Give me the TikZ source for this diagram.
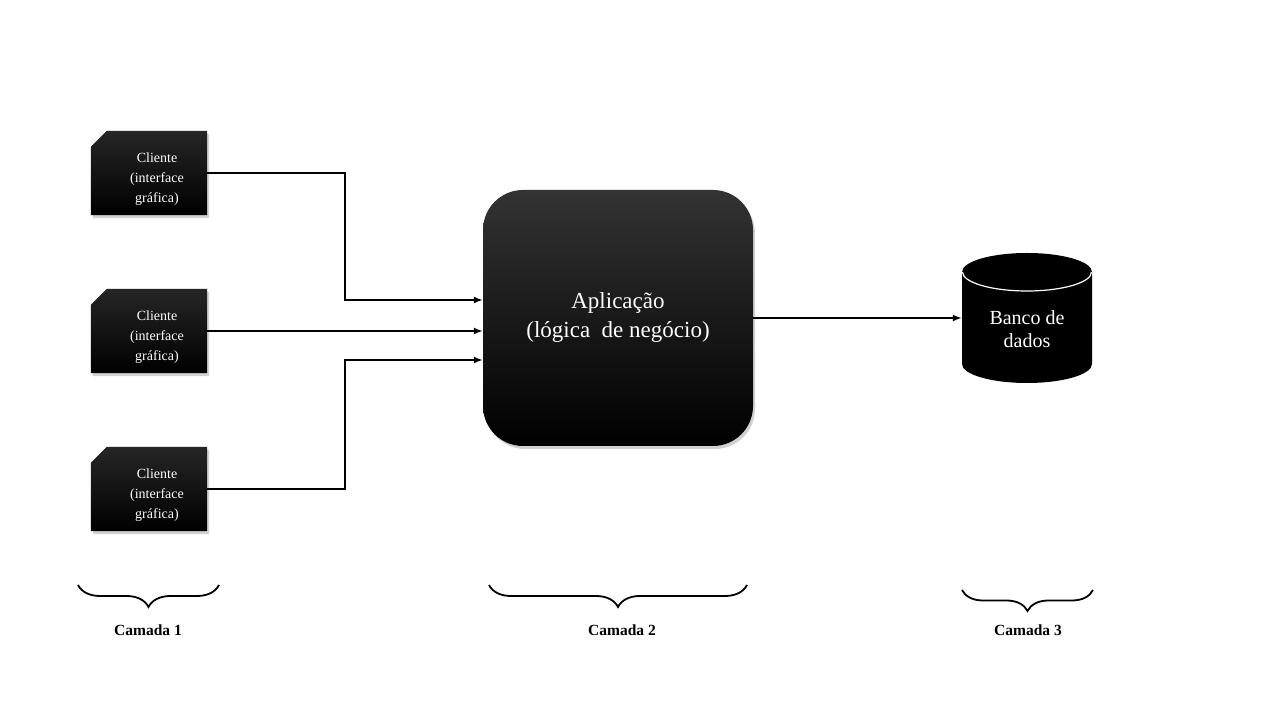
\documentclass[tikz,border=0pt]{standalone}
\usepackage{fontspec}
\setmainfont{Liberation Serif}
\usetikzlibrary{arrows.meta,shadows,backgrounds,decorations.pathreplacing}
\begin{document}
\begin{tikzpicture}[x=1pt,y=1pt,
  clientbox/.style={minimum width=116, minimum height=84, inner sep=0, draw=none},
  cltext/.style={text=white, align=center, inner sep=0, font=\fontsize{14}{20}\selectfont},
  clientfill/.style={top color=black!85, middle color=black, bottom color=black,
     drop shadow={shadow xshift=2pt, shadow yshift=-3pt, opacity=0.18, fill=black}},
  appbox/.style={minimum width=270, minimum height=256, rounded corners=40, inner sep=0,
     top color=black!80, middle color=black, bottom color=black,
     drop shadow={shadow xshift=2pt, shadow yshift=-3pt, opacity=0.18, fill=black},
     text=white, align=center, font=\fontsize{23}{29}\selectfont},
  dbbox/.style={minimum width=130, minimum height=130, inner sep=0, text=white, align=center,
     font=\fontsize{20}{23}\selectfont},
  conn/.style={line width=1.6pt, -{Latex[length=9pt,width=7pt]}},
  bracestyle/.style={line width=1.8pt, decorate, decoration={brace, mirror, amplitude=22pt}},
  camada/.style={font=\fontsize{15.5}{18}\selectfont\bfseries, inner sep=0}]
\useasboundingbox (0,0) rectangle (1280,720);
\fill[white] (0,0) rectangle (1280,720);

% clients
\foreach \n/\y in {c1/547, c2/389, c3/231} {
  \node[clientbox] (\n) at (149,\y) {};
  \path[clientfill] ([yshift=-16]\n.north west) -- ([xshift=16]\n.north west) -- (\n.north east)
     -- (\n.south east) -- (\n.south west) -- cycle;
  \node[cltext] (\n t) at ([xshift=8,yshift=-6]\n.center) {Cliente\\(interface\\gráfica)};
}

% application
\node[appbox] (app) at (618,402) {Aplicação\\(lógica\ \ de negócio)};

% database cylinder
\fill[black] (962,448) -- (962,356) arc[start angle=180, end angle=360, x radius=65pt, y radius=19pt]
   -- (1092,448) arc[start angle=0, end angle=180, x radius=65pt, y radius=19pt] -- cycle;
\draw[white, line width=1.2pt] (962.5,448) arc[start angle=180, end angle=360, x radius=64.5pt, y radius=19pt];
\node[dbbox] (db) at (1027,402) {};
\node[dbbox, minimum width=0, minimum height=0] (dbt) at (1027,391) {Banco de\\dados};

% connectors
\draw[conn] (c1.east) -- ++(138,0) |- ([yshift=18]app.west);
\draw[conn] (c2.east) -- (app.west |- c2.east);
\draw[conn] (c3.east) -- ++(138,0) |- ([yshift=-42]app.west);
\draw[conn] (app.east) -- (db.west);

% braces
\coordinate (b1a) at (78,135);  \coordinate (b1b) at (219,135);
\coordinate (b2a) at (489,135); \coordinate (b2b) at (747,135);
\coordinate (b3a) at (962,130); \coordinate (b3b) at (1093,130);
\draw[bracestyle] (b1a) -- (b1b);
\draw[bracestyle] (b2a) -- (b2b);
\draw[bracestyle, decoration={brace, mirror, amplitude=21pt}] (b3a) -- (b3b);
\node[camada] (l1) at (148,90) {Camada 1};
\node[camada] (l2) at (622,90) {Camada 2};
\node[camada] (l3) at (1028,90) {Camada 3};
\end{tikzpicture}
\end{document}
